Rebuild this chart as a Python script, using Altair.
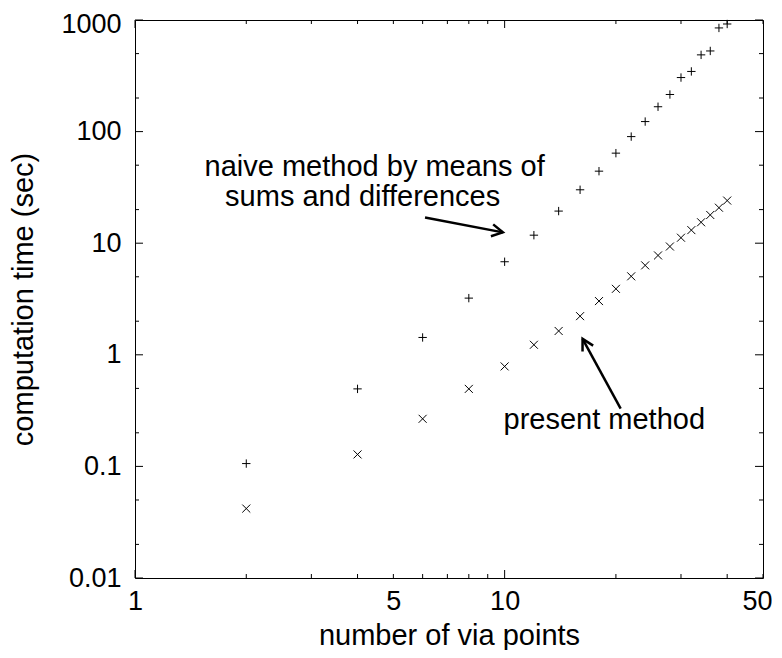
import math
import altair as alt
import pandas as pd

# ---------------- data ----------------
via_points = [2, 4, 6, 8, 10, 12, 14, 16, 18, 20, 22, 24, 26, 28, 30, 32, 34, 36, 38, 40]
naive_time = [0.106, 0.495, 1.43, 3.22, 6.82, 11.8, 19.4, 30.1, 44.2, 64.1,
              90.2, 123, 167, 215, 305, 346, 487, 528, 849, 921]
present_time = [0.0419, 0.128, 0.267, 0.495, 0.787, 1.23, 1.635, 2.22, 3.03, 3.9,
                5.05, 6.33, 7.77, 9.34, 11.2, 13.1, 15.4, 17.9, 20.8, 24.1]

y_major = [0.01, 0.1, 1, 10, 100, 1000]
y_minor = [0.02, 0.05, 0.2, 0.5, 2, 5, 20, 50, 200, 500]
x_major = [1, 10]
x_minor = [2, 3, 4, 5, 6, 7, 8, 9, 20, 30, 40, 50]
x_labels = [1, 5, 10, 50]

note_text = ["naive method by means of", "sums and differences", "present method"]
note_x = [4.45, 4.13, 18.6]
note_y = [40.2, 21.7, 0.215]

arrow_id = ["naive", "naive", "present", "present"]
arrow_x = [6.09, 9.89, 20.6, 16.25]
arrow_y = [17.0, 12.5, 0.330, 1.389]

# ---------------- styling ----------------
W, H = 628, 558
FONT = "Liberation Sans"
PLUS = "M-1,0L1,0M0,-1L0,1"
CROSS = "M-1,-1L1,1M-1,1L1,-1"
HEAD = "M-1,-0.55L0,0L-1,0.55"

xs = alt.Scale(type="log", domain=[1, 50], nice=False)
ys = alt.Scale(type="log", domain=[0.01, 1000], nice=False)

x_axis = alt.Axis(values=x_labels, format="~g", ticks=False, domain=False, grid=False,
                  labelFont=FONT, labelFontSize=27, labelColor="black", labelPadding=10,
                  labelFlush=False, labelOverlap=False,
                  labelOffset={"expr": "datum.value == 50 ? -6 : 0"},
                  title="number of via points", titleFont=FONT, titleFontSize=29,
                  titleFontWeight="normal", titleColor="black",
                  titleY=66, titleBaseline="alphabetic")
y_axis = alt.Axis(values=y_major, format="~g", ticks=False, domain=False, grid=False,
                  labelFont=FONT, labelFontSize=27, labelColor="black", labelPadding=14,
                  labelOverlap=False, labelFlush=False,
                  labelOffset={"expr": "datum.value == 1000 ? 4.5 : 0"},
                  title="computation time (sec)", titleFont=FONT, titleFontSize=29,
                  titleFontWeight="normal", titleColor="black", titleAngle=270,
                  titleX=-103, titleY=H / 2, titleBaseline="alphabetic", titleAlign="center")


def X(field):
    return alt.X(field, scale=xs, axis=x_axis)


def Y(field):
    return alt.Y(field, scale=ys, axis=y_axis)


df_n = pd.DataFrame({"n": via_points, "t": naive_time})
df_p = pd.DataFrame({"n": via_points, "t": present_time})

naive = alt.Chart(df_n).mark_point(shape=PLUS, size=70, filled=False, strokeWidth=1,
                                   color="black", opacity=1).encode(x=X("n:Q"), y=Y("t:Q"))
present = alt.Chart(df_p).mark_point(shape=CROSS, size=64, filled=False, strokeWidth=1,
                                     color="black", opacity=1).encode(x=X("n:Q"), y=Y("t:Q"))


def ytick(vals, x0, x1):
    return alt.Chart(pd.DataFrame({"t": vals})).mark_rule(color="black", strokeWidth=1).encode(
        y=Y("t:Q"), x=alt.value(x0), x2=alt.value(x1))


def xtick(vals, y0, y1):
    return alt.Chart(pd.DataFrame({"n": vals})).mark_rule(color="black", strokeWidth=1).encode(
        x=X("n:Q"), y=alt.value(y0), y2=alt.value(y1))


ticks = [
    ytick(y_major, 0, 8), ytick(y_major, W, W - 8),
    ytick(y_minor, 0, 4), ytick(y_minor, W, W - 4),
    xtick(x_major, H, H - 8), xtick(x_major, 0, 8),
    xtick(x_minor, H, H - 4), xtick(x_minor, 0, 4),
]

notes = alt.Chart(pd.DataFrame({"label": note_text, "n": note_x, "t": note_y})).mark_text(
    align="center", baseline="alphabetic", font=FONT, fontSize=29, color="black").encode(
    x=X("n:Q"), y=Y("t:Q"), text="label:N")

df_a = pd.DataFrame({"arrow": arrow_id, "n": arrow_x, "t": arrow_y,
                     "order": list(range(len(arrow_id)))})
arrow_lines = alt.Chart(df_a).mark_line(color="black", strokeWidth=2.5).encode(
    x=X("n:Q"), y=Y("t:Q"), detail="arrow:N", order="order:Q")


def px(x, y):
    return (W * math.log10(x) / math.log10(50), H * (1 - (math.log10(y) + 2) / 5))


heads = []
for i in range(0, len(arrow_x), 2):
    x0, y0 = px(arrow_x[i], arrow_y[i])
    x1, y1 = px(arrow_x[i + 1], arrow_y[i + 1])
    ang = math.degrees(math.atan2(y1 - y0, x1 - x0)) % 360
    heads.append({"n": arrow_x[i + 1], "t": arrow_y[i + 1], "angle": ang})
arrow_heads = alt.Chart(pd.DataFrame(heads)).mark_point(
    shape=HEAD, size=484, filled=False, strokeWidth=2.5, color="black", opacity=1).encode(
    x=X("n:Q"), y=Y("t:Q"), angle=alt.Angle("angle:Q", scale=None))

chart = alt.layer(naive, present, *ticks, notes, arrow_lines, arrow_heads).properties(
    width=W, height=H,
    padding={"left": 127, "top": 12, "right": 9, "bottom": 72},
    autosize=alt.AutoSizeParams(type="none"),
    background="white",
).configure_view(stroke="black", strokeWidth=1)

chart.save("out.html", embed_options={"renderer": "svg", "actions": False})
